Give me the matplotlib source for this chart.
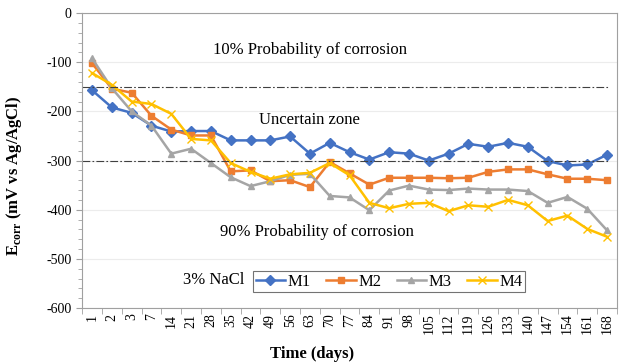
import matplotlib
matplotlib.use("Agg")
import numpy as np
import matplotlib.pyplot as plt
from matplotlib.ticker import MultipleLocator

days = ["1", "2", "3", "7", "14", "21", "28", "35", "42", "49", "56", "63", "70", "77",
        "84", "91", "98", "105", "112", "119", "126", "133", "140", "147", "154", "161", "168"]

m1 = [-157, -192, -203, -229, -241, -240, -240, -259, -259, -259, -251, -286, -264, -283,
      -298, -283, -286, -300, -286, -266, -272, -264, -272, -301, -310, -308, -288]
m2 = [-102, -154, -162, -209, -237, -249, -249, -322, -320, -342, -340, -354, -303, -326,
      -349, -335, -335, -335, -336, -335, -323, -318, -318, -328, -337, -337, -340]
m3 = [-92, -153, -200, -229, -286, -276, -305, -334, -352, -342, -329, -327, -372, -375,
      -401, -361, -351, -359, -360, -357, -359, -359, -362, -386, -374, -398, -442]
m4 = [-122, -146, -180, -185, -205, -256, -259, -305, -323, -337, -328, -325, -305, -330,
      -386, -397, -388, -386, -403, -391, -394, -380, -391, -423, -412, -439, -455]

series = [("M1", m1, "#4472C4", "D"), ("M2", m2, "#ED7D31", "s"),
          ("M3", m3, "#A5A5A5", "^"), ("M4", m4, "#FFC000", "x")]

thresholds = [-150, -300]

plt.rcParams["font.family"] = ["Liberation Serif", "DejaVu Serif"]
plt.rcParams["axes.unicode_minus"] = False
plt.rcParams["mathtext.fontset"] = "custom"
plt.rcParams["mathtext.rm"] = "Liberation Serif"
plt.rcParams["mathtext.bf"] = "Liberation Serif:bold"

fig = plt.figure(figsize=(6.27, 3.62), dpi=100)
ax = fig.add_axes([0.131, 0.149, 0.853, 0.815])

x = np.arange(len(days))
for name, vals, col, mk in series:
    ms = 5 if mk != "x" else 5.5
    ax.plot(x, vals, color=col, marker=mk, markersize=ms, linewidth=1.8,
            markeredgewidth=1.0, label=name)

for t in thresholds:
    ax.axhline(t, xmin=0, xmax=0.983, color="#404040", linewidth=0.8,
               linestyle=(0, (7, 2, 1.5, 2)))

ax.set_xlim(-0.5, len(days) - 0.5)
ax.set_ylim(-600, 0)
ax.set_xticks(x)
ax.set_xticklabels(days, rotation=90, fontsize=10)
ax.set_xticks(np.arange(-0.5, len(days), 1), minor=True)
ax.tick_params(axis="x", which="major", length=0, pad=4)
ax.tick_params(axis="x", which="minor", length=4, color="#A0A0A0")
ax.yaxis.set_major_locator(MultipleLocator(100))
ax.yaxis.set_minor_locator(MultipleLocator(20))
ax.tick_params(axis="y", which="major", labelsize=10, length=4, color="#A0A0A0")
ax.tick_params(axis="y", which="minor", length=3, color="#A0A0A0")
ax.grid(axis="y", which="major", color="#ECECEC", linewidth=0.8)
ax.set_axisbelow(True)
for sp in ax.spines.values():
    sp.set_color("#A0A0A0")

ax.set_xlabel("Time (days)", fontsize=12, fontweight="bold")
ax.xaxis.set_label_coords(0.43, -0.13)
ax.set_ylabel(r"$\mathbf{E}_{\mathbf{corr}}$ (mV vs Ag/AgCl)", fontsize=12, fontweight="bold")
ax.yaxis.set_label_coords(-0.108, 0.45)

ax.text(11.0, -75, "10% Probability of corrosion", fontsize=12, ha="center", va="center")
ax.text(11.0, -218, "Uncertain zone", fontsize=12, ha="center", va="center")
ax.text(11.35, -445, "90% Probability of corrosion", fontsize=12, ha="center", va="center")
ax.text(7.68, -543, "3% NaCl", fontsize=12, ha="right", va="center")

leg = ax.legend(loc="lower left", bbox_to_anchor=(0.32, 0.054), ncol=4, fontsize=12,
                frameon=True, fancybox=False, edgecolor="#505050", handlelength=1.75,
                handletextpad=0.15, columnspacing=0.95, borderpad=0.15, borderaxespad=0)
leg.get_frame().set_linewidth(0.8)

fig.savefig("out.png", dpi=100)
